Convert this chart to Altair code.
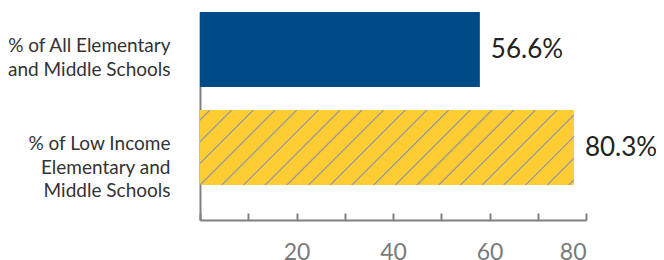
import altair as alt
import pandas as pd

# ---- data ----
categories = [
    "% of All Elementary|and Middle Schools",
    "% of Low Income|Elementary and|Middle Schools",
]
bar_lengths = [58.0, 77.5]          # lengths as drawn against the axis
value_labels = ["56.6%", "80.3%"]   # printed labels
kinds = ["solid", "hatched"]
x_label_values = [20, 40, 60, 80]
x_tick_values = [0, 10, 20, 30, 40, 50, 60, 70, 80]

df = pd.DataFrame({"cat": categories, "value": bar_lengths,
                   "label": value_labels, "kind": kinds})

# ---- style ----
FONT = "Lato"
BLUE = "#004b87"
YELLOW = "#fdcd33"
HATCH = "#9a9a9c"
AXIS_GRAY = "#808080"
PLOT_W, PLOT_H = 386, 208

# diagonal hatch built as a striped linear gradient (bounding-box units)
W, H = 374.0, 75.0
r = H / W
a = (1 + r) / (1 + r * r)
gx2, gy2 = a, a * r
px_per_t = (a * a * (1 + r * r)) / (a / W)
period = 21.7 / px_per_t
phase = 10.0 / px_per_t
soft, core = 1.5 / px_per_t, 0.35 / px_per_t
stops = [alt.GradientStop(color=YELLOW, offset=0)]
c = phase
while c + soft < 1:
    if c - soft > 0:
        stops += [
            alt.GradientStop(color=YELLOW, offset=round(c - soft, 5)),
            alt.GradientStop(color=HATCH, offset=round(c - core, 5)),
            alt.GradientStop(color=HATCH, offset=round(c + core, 5)),
            alt.GradientStop(color=YELLOW, offset=round(c + soft, 5)),
        ]
    c += period
stops.append(alt.GradientStop(color=YELLOW, offset=1))
hatch_fill = alt.Gradient(gradient="linear", stops=stops,
                          x1=0, y1=0, x2=gx2, y2=gy2)

x_scale = alt.Scale(domain=[0, 80], nice=False, zero=True)
y_scale = alt.Scale(paddingInner=0.2347, paddingOuter=0.1786, align=0)

y_axis = alt.Axis(
    title=None, domain=True, domainColor=AXIS_GRAY, domainWidth=2,
    ticks=False, labelExpr="split(datum.label, '|')",
    labelAlign="right", labelBaseline="middle", labelFont=FONT,
    labelFontSize=19, labelLineHeight=23.5, labelColor="#333333",
    labelPadding=30, labelOffset=-3, labelLimit=300, grid=False,
)
axis_labels = alt.Axis(
    orient="bottom", title=None, values=x_label_values, domain=False,
    ticks=False, tickSize=0, labelPadding=21, labelFont=FONT,
    labelFontSize=23, labelColor="#7a7a7a", grid=False,
)
axis_ticks = alt.Axis(
    orient="top", offset=-PLOT_H, title=None, values=x_tick_values,
    labels=False, domain=True, domainColor=AXIS_GRAY, domainWidth=2,
    ticks=True, tickSize=7, tickWidth=2, tickColor=AXIS_GRAY, grid=False,
)

y_enc = alt.Y("cat:N", sort=categories, scale=y_scale, axis=y_axis)

solid = alt.Chart(df).transform_filter(alt.datum.kind == "solid").mark_bar(
    color=BLUE
).encode(x=alt.X("value:Q", scale=x_scale, axis=axis_labels), y=y_enc)

hatched = alt.Chart(df).transform_filter(alt.datum.kind == "hatched").mark_bar(
    color=hatch_fill
).encode(x=alt.X("value:Q", scale=x_scale, axis=None), y=y_enc)

text = alt.Chart(df).mark_text(
    align="left", baseline="middle", dx=11, dy=1, fontSize=26, font=FONT,
    color="#222222"
).encode(x=alt.X("value:Q", scale=x_scale, axis=axis_ticks), y=y_enc,
         text="label:N")

chart = alt.layer(solid, hatched, text).resolve_axis(x="independent").properties(
    width=PLOT_W, height=PLOT_H,
    autosize=alt.AutoSizeParams(type="none"),
    padding={"left": 192, "top": 4, "right": 70, "bottom": 40},
    background="white",
).configure_view(stroke=None)

chart.save("out.html", embed_options={"renderer": "svg", "actions": False})
